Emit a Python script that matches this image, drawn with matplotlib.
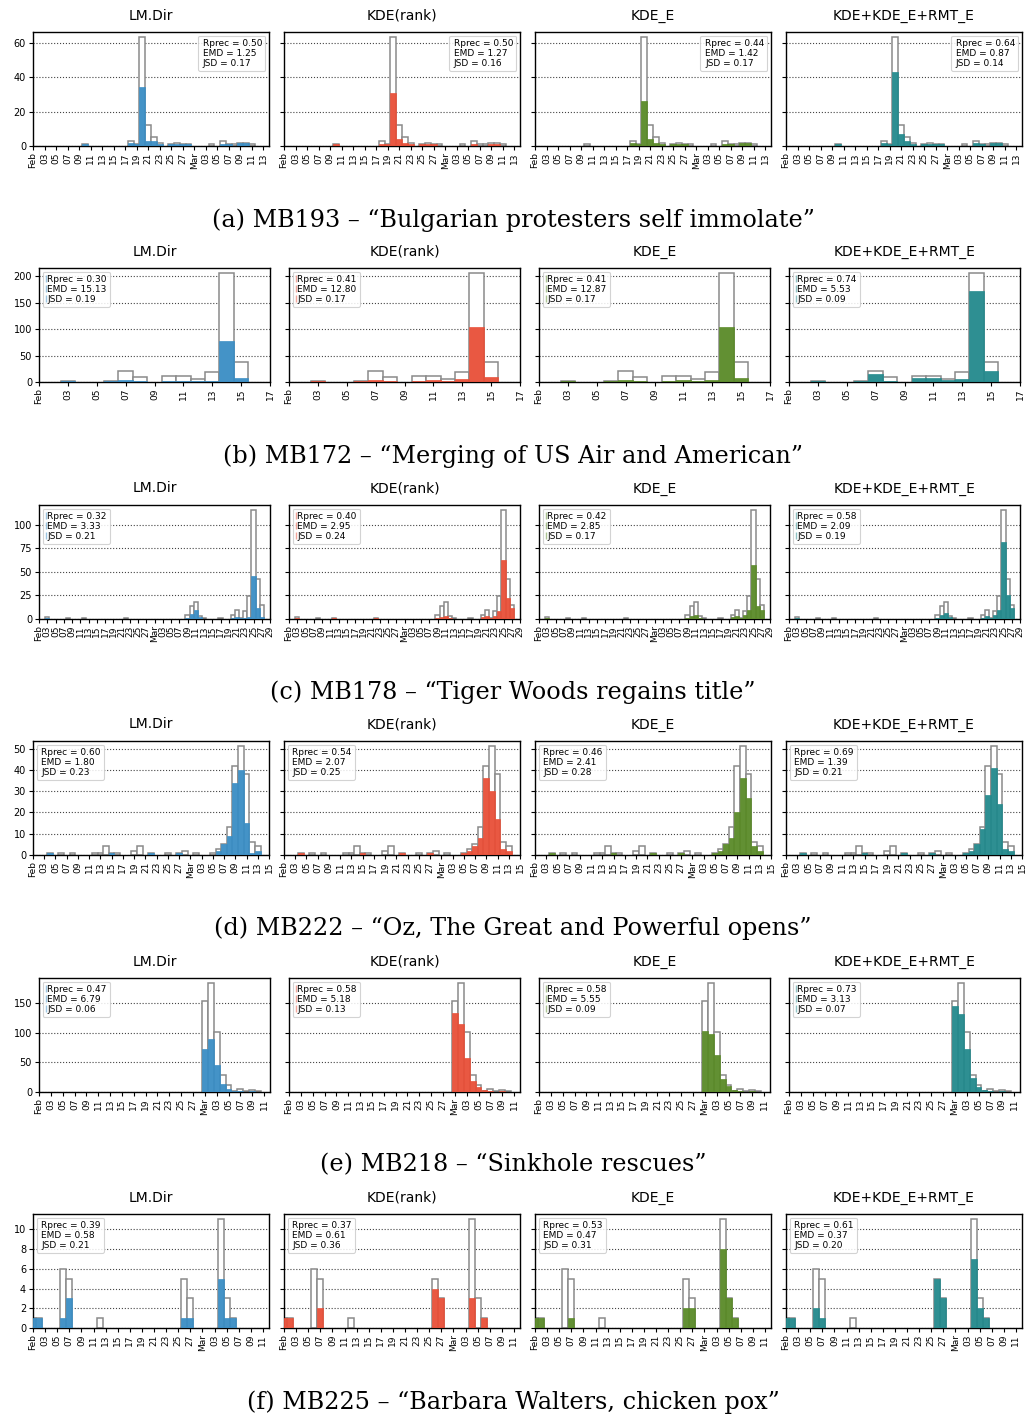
import numpy as np
import matplotlib
matplotlib.use("Agg")
import matplotlib.pyplot as plt
import matplotlib.dates as mdates
import matplotlib.patches as mpatches
from matplotlib.ticker import FuncFormatter

methods = ["LM.Dir", "KDE(rank)", "KDE_E", "KDE+KDE_E+RMT_E"]
colors = ["#3a8dc4", "#e84f38", "#5a8a28", "#23898c"]

# ---------------- (a) MB193 ----------------
a_days = ["2013-02-10", "2013-02-18", "2013-02-19", "2013-02-20", "2013-02-21", "2013-02-22",
          "2013-02-23", "2013-02-25", "2013-02-26", "2013-02-27", "2013-02-28", "2013-03-04",
          "2013-03-06", "2013-03-07", "2013-03-08", "2013-03-09", "2013-03-10", "2013-03-11"]
a_truth = [1, 3, 1, 63, 12, 5, 2, 1, 2, 1, 1, 1, 3, 1, 1, 2, 2, 1]
a_lmdir = [1, 2, 1, 34, 3, 3, 1, 1, 1, 1, 1, 0, 1, 1, 0, 2, 2, 0]
a_kderank = [1, 1, 1, 31, 4, 2, 1, 1, 1, 1, 0, 0, 1, 0, 0, 1, 1, 0]
a_kdee = [0, 2, 1, 26, 4, 2, 1, 1, 1, 1, 0, 0, 1, 1, 0, 2, 2, 0]
a_kdeall = [1, 2, 1, 43, 7, 3, 1, 1, 1, 1, 1, 0, 2, 1, 0, 2, 2, 0]
a_rprec = [0.50, 0.50, 0.44, 0.64]
a_emd = [1.25, 1.27, 1.42, 0.87]
a_jsd = [0.17, 0.16, 0.17, 0.14]
a_yticks = [0, 20, 40, 60]

# ---------------- (b) MB172 ----------------
b_days = ["2013-02-03", "2013-02-06", "2013-02-07", "2013-02-08", "2013-02-10", "2013-02-11",
          "2013-02-12", "2013-02-13", "2013-02-14", "2013-02-15"]
b_truth = [2, 2, 20, 10, 11, 12, 6, 18, 205, 38]
b_lmdir = [1, 1, 3, 1, 1, 2, 1, 1, 78, 7]
b_kderank = [2, 1, 4, 1, 2, 3, 2, 6, 103, 9]
b_kdee = [1, 1, 3, 1, 2, 3, 1, 3, 103, 8]
b_kdeall = [1, 1, 15, 2, 8, 8, 4, 6, 172, 20]
b_rprec = [0.30, 0.41, 0.41, 0.74]
b_emd = [15.13, 12.80, 12.87, 5.53]
b_jsd = [0.19, 0.17, 0.17, 0.09]
b_yticks = [0, 50, 100, 150, 200]

# ---------------- (c) MB178 ----------------
c_days = ["2013-02-03", "2013-02-08", "2013-02-12", "2013-02-22", "2013-03-09", "2013-03-10",
          "2013-03-11", "2013-03-12", "2013-03-13", "2013-03-17", "2013-03-20", "2013-03-21",
          "2013-03-22", "2013-03-23", "2013-03-24", "2013-03-25", "2013-03-26", "2013-03-27"]
c_truth = [2, 1, 1, 1, 4, 14, 18, 3, 1, 1, 4, 10, 1, 9, 24, 115, 42, 15]
c_lmdir = [1, 0, 0, 0, 1, 5, 10, 2, 0, 0, 1, 2, 1, 1, 2, 46, 12, 2]
c_kderank = [1, 0, 1, 1, 1, 2, 3, 1, 0, 0, 2, 3, 1, 3, 8, 62, 22, 12]
c_kdee = [1, 0, 0, 0, 1, 3, 4, 1, 0, 0, 2, 3, 1, 4, 10, 57, 14, 10]
c_kdeall = [1, 0, 0, 0, 1, 4, 6, 2, 0, 0, 1, 3, 1, 4, 10, 82, 25, 12]
c_rprec = [0.32, 0.40, 0.42, 0.58]
c_emd = [3.33, 2.95, 2.85, 2.09]
c_jsd = [0.21, 0.24, 0.17, 0.19]
c_yticks = [0, 25, 50, 75, 100]

# ---------------- (d) MB222 ----------------
d_days = ["2013-02-04", "2013-02-06", "2013-02-08", "2013-02-12", "2013-02-13", "2013-02-14",
          "2013-02-15", "2013-02-16", "2013-02-19", "2013-02-20", "2013-02-22", "2013-02-25",
          "2013-02-27", "2013-02-28", "2013-03-02", "2013-03-05", "2013-03-06", "2013-03-07",
          "2013-03-08", "2013-03-09", "2013-03-10", "2013-03-11", "2013-03-12", "2013-03-13"]
d_truth = [1, 1, 1, 1, 1, 4, 1, 1, 2, 4, 1, 1, 1, 2, 1, 1, 3, 5, 13, 42, 51, 38, 6, 4]
d_lmdir = [1, 0, 0, 0, 0, 0, 1, 0, 0, 0, 1, 0, 1, 0, 0, 0, 2, 5, 9, 34, 40, 15, 1, 2]
d_kderank = [1, 0, 0, 0, 0, 0, 1, 0, 0, 0, 1, 0, 1, 0, 0, 1, 2, 4, 8, 36, 30, 17, 3, 2]
d_kdee = [1, 0, 0, 0, 0, 0, 1, 0, 0, 0, 1, 0, 1, 0, 0, 1, 2, 5, 8, 20, 36, 27, 4, 2]
d_kdeall = [1, 0, 0, 0, 0, 0, 1, 0, 0, 0, 1, 0, 1, 0, 0, 1, 2, 5, 12, 28, 41, 24, 3, 2]
d_rprec = [0.60, 0.54, 0.46, 0.69]
d_emd = [1.80, 2.07, 2.41, 1.39]
d_jsd = [0.23, 0.25, 0.28, 0.21]
d_yticks = [0, 10, 20, 30, 40, 50]

# ---------------- (e) MB218 ----------------
e_days = ["2013-03-01", "2013-03-02", "2013-03-03", "2013-03-04", "2013-03-05", "2013-03-06",
          "2013-03-07", "2013-03-08", "2013-03-09", "2013-03-10"]
e_truth = [154, 184, 102, 28, 12, 2, 5, 1, 3, 1]
e_lmdir = [73, 90, 46, 14, 5, 1, 1, 0, 1, 0]
e_kderank = [134, 116, 57, 18, 8, 3, 2, 0, 1, 0]
e_kdee = [103, 99, 62, 22, 10, 3, 2, 0, 1, 0]
e_kdeall = [146, 132, 73, 24, 8, 3, 2, 0, 1, 0]
e_rprec = [0.47, 0.58, 0.58, 0.73]
e_emd = [6.79, 5.18, 5.55, 3.13]
e_jsd = [0.06, 0.13, 0.09, 0.07]
e_yticks = [0, 50, 100, 150]

# ---------------- (f) MB225 ----------------
f_days = ["2013-02-01", "2013-02-02", "2013-02-06", "2013-02-07", "2013-02-12", "2013-02-26",
          "2013-02-27", "2013-03-04", "2013-03-05", "2013-03-06"]
f_truth = [1, 1, 6, 5, 1, 5, 3, 11, 3, 1]
f_lmdir = [1, 1, 1, 3, 0, 1, 1, 5, 1, 1]
f_kderank = [1, 1, 0, 2, 0, 4, 3, 3, 0, 1]
f_kdee = [1, 1, 0, 1, 0, 2, 2, 8, 3, 1]
f_kdeall = [1, 1, 2, 1, 0, 5, 3, 7, 2, 1]
f_rprec = [0.39, 0.37, 0.53, 0.61]
f_emd = [0.58, 0.61, 0.47, 0.37]
f_jsd = [0.21, 0.36, 0.31, 0.20]
f_yticks = [0, 2, 4, 6, 8, 10]

captions = ["(a) MB193 \u2013 \u201cBulgarian protesters self immolate\u201d",
            "(b) MB172 \u2013 \u201cMerging of US Air and American\u201d",
            "(c) MB178 \u2013 \u201cTiger Woods regains title\u201d",
            "(d) MB222 \u2013 \u201cOz, The Great and Powerful opens\u201d",
            "(e) MB218 \u2013 \u201cSinkhole rescues\u201d",
            "(f) MB225 \u2013 \u201cBarbara Walters, chicken pox\u201d"]
x_start = "2013-02-01"
x_end = ["2013-03-14", "2013-02-17", "2013-03-29", "2013-03-15", "2013-03-12", "2013-03-12"]

rows = [
    (a_days, a_truth, [a_lmdir, a_kderank, a_kdee, a_kdeall], a_rprec, a_emd, a_jsd, a_yticks),
    (b_days, b_truth, [b_lmdir, b_kderank, b_kdee, b_kdeall], b_rprec, b_emd, b_jsd, b_yticks),
    (c_days, c_truth, [c_lmdir, c_kderank, c_kdee, c_kdeall], c_rprec, c_emd, c_jsd, c_yticks),
    (d_days, d_truth, [d_lmdir, d_kderank, d_kdee, d_kdeall], d_rprec, d_emd, d_jsd, d_yticks),
    (e_days, e_truth, [e_lmdir, e_kderank, e_kdee, e_kdeall], e_rprec, e_emd, e_jsd, e_yticks),
    (f_days, f_truth, [f_lmdir, f_kderank, f_kdee, f_kdeall], f_rprec, f_emd, f_jsd, f_yticks),
]

# ---------------- layout (pixels) ----------------
W, H = 1026, 1419
row_tops = [32, 268, 505, 741, 978, 1214]
ax_h = 114
two_digit = [33, 284, 535, 786]
three_digit = [39, 289, 539, 789]
row_lefts = [two_digit, three_digit, three_digit, two_digit, three_digit, two_digit]
row_w = [236, 231, 231, 236, 231, 236]
caption_y = [220, 456, 692, 928, 1165, 1402]
legend_loc = ["upper right", "upper left", "upper left", "upper left", "upper left", "upper left"]
legend_marks = [False, True, True, False, True, False]

plt.rcParams["font.family"] = ["DejaVu Sans"]
fig = plt.figure(figsize=(W / 100, H / 100), dpi=100)


def fmt(x, pos=None):
    d = mdates.num2date(x)
    return d.strftime("%b") if d.day == 1 else d.strftime("%d")


for r, (days, truth, series, rprec, emd, jsd, yticks) in enumerate(rows):
    x = mdates.date2num(np.array(days, dtype="datetime64[D]"))
    x0 = mdates.date2num(np.datetime64(x_start))
    x1 = mdates.date2num(np.datetime64(x_end[r]))
    first = None
    for c in range(4):
        rect = [row_lefts[r][c] / W, (H - row_tops[r] - ax_h) / H, row_w[r] / W, ax_h / H]
        ax = fig.add_axes(rect, sharey=first)
        if first is None:
            first = ax
        ax.set_axisbelow(True)
        ax.yaxis.grid(True, linestyle=":", color="#444444", linewidth=0.8)
        ax.bar(x, truth, width=1.0, facecolor="white", edgecolor="#8a8a8a", linewidth=1.1, zorder=2)
        ax.bar(x, series[c], width=1.0, color=colors[c], edgecolor=colors[c], linewidth=0.5,
               alpha=0.95, zorder=3)
        ax.set_xlim(x0, x1)
        ax.set_ylim(0, max(truth) * 1.05)
        ax.set_yticks(yticks)
        ax.xaxis.set_major_locator(mdates.DayLocator(bymonthday=range(1, 32, 2)))
        ax.xaxis.set_major_formatter(FuncFormatter(fmt))
        ax.tick_params(axis="x", labelrotation=90, labelsize=6.5, length=3, pad=1.5)
        ax.tick_params(axis="y", labelsize=7, length=3, pad=2)
        if c > 0:
            ax.tick_params(axis="y", labelleft=False)
        for s in ax.spines.values():
            s.set_linewidth(1.0)
            s.set_color("black")
        ax.set_title(methods[c], fontsize=10, pad=9)
        labels = ["Rprec = %.2f" % rprec[c], "EMD = %.2f" % emd[c], "JSD = %.2f" % jsd[c]]
        if legend_marks[r]:
            handles = [mpatches.Patch(facecolor=colors[c], edgecolor=colors[c], linewidth=1.0, alpha=0.5)
                       for _ in labels]
        else:
            handles = [mpatches.Patch(facecolor="none", edgecolor="none") for _ in labels]
        leg = ax.legend(handles, labels, loc=legend_loc[r], fontsize=6.5, handlelength=0,
                        handletextpad=0.15, borderpad=0.35, labelspacing=0.1, framealpha=0.85,
                        borderaxespad=0.4, fancybox=True)
        leg.get_frame().set_edgecolor("#cccccc")
        leg.get_frame().set_linewidth(0.8)
        leg.set_zorder(5)
    fig.text(0.5, 1 - caption_y[r] / H, captions[r], ha="center", va="center",
             fontsize=17.2, family=["DejaVu Serif"])

fig.savefig("out.png", dpi=100)
